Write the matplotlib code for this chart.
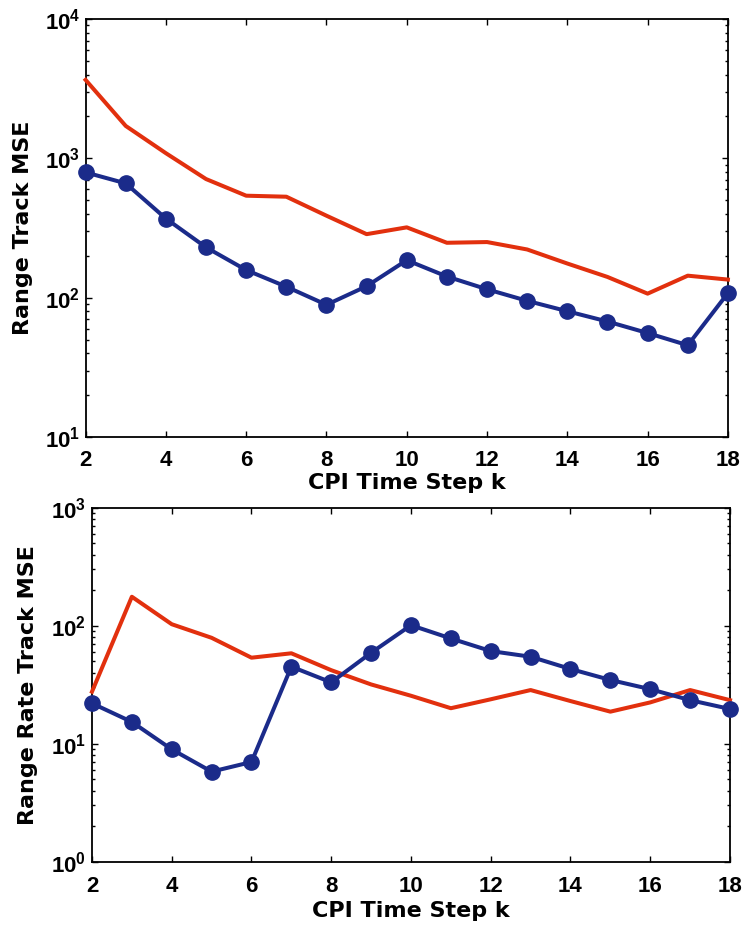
import matplotlib
matplotlib.use("Agg")
import matplotlib.pyplot as plt
from matplotlib.ticker import LogLocator, FixedLocator

# CPI time steps
k = [2, 3, 4, 5, 6, 7, 8, 9, 10, 11, 12, 13, 14, 15, 16, 17, 18]

# Range track MSE
range_ref = [3660, 1710, 1090, 711, 540, 531, 388, 286, 320, 248, 251, 222, 176, 141, 107, 144, 135]
range_est = [794, 662, 370, 230, 158, 120, 89, 121, 186, 142, 115, 95, 80, 67.5, 55.8, 45.6, 108]

# Range rate track MSE
rate_ref = [27.6, 176, 103, 79, 53.6, 58.4, 42, 31.8, 25.5, 20, 23.8, 28.5, 23, 18.7, 22.4, 28.5, 23.4]
rate_est = [22, 15.3, 8.96, 5.8, 7.0, 45, 33.1, 59, 101, 78, 61, 54.6, 43, 34.7, 29, 23.4, 19.7]

xticks = [2, 4, 6, 8, 10, 12, 14, 16, 18]

plt.rcParams["font.family"] = ["Liberation Sans", "DejaVu Sans"]
plt.rcParams["font.weight"] = "bold"
plt.rcParams["mathtext.fontset"] = "custom"
plt.rcParams["mathtext.rm"] = "Liberation Sans:bold"
plt.rcParams["mathtext.bf"] = "Liberation Sans:bold"
plt.rcParams["mathtext.default"] = "bf"

RED = "#e2300e"
BLUE = "#1b2b8a"
LABEL_FONT = ["DejaVu Sans"]

fig = plt.figure(figsize=(7.43, 9.26), dpi=100)
ax1 = fig.add_axes([0.1152, 0.528, 0.8645, 0.4514])
ax2 = fig.add_axes([0.1238, 0.0694, 0.8587, 0.3823])


def style(ax, ylim, ylabel, label_x, xpad, xlabelpad):
    ax.set_yscale("log")
    ax.set_xlim(2, 18)
    ax.set_ylim(*ylim)
    ax.xaxis.set_major_locator(FixedLocator(xticks))
    ax.yaxis.set_major_locator(LogLocator(base=10, numticks=10))
    ax.yaxis.set_minor_locator(LogLocator(base=10, subs=range(2, 10), numticks=20))
    ax.tick_params(which="both", direction="in", top=True, right=True,
                   labelsize=16, width=1, color="black")
    ax.tick_params(which="major", length=4)
    ax.tick_params(which="minor", length=2.5)
    ax.tick_params(axis="x", pad=xpad)
    ax.tick_params(axis="y", pad=4)
    for lbl in ax.get_xticklabels() + ax.get_yticklabels():
        lbl.set_fontweight("bold")
    for s in ax.spines.values():
        s.set_linewidth(1.3)
    ax.set_xlabel("CPI Time Step k", fontsize=16, fontweight="bold",
                  family=LABEL_FONT, labelpad=xlabelpad)
    ax.set_ylabel(ylabel, fontsize=16, fontweight="bold", family=LABEL_FONT)
    ax.yaxis.set_label_coords(label_x, 0.5)


ax1.plot(k, range_ref, color=RED, lw=2.9, clip_on=False, zorder=3)
ax1.plot(k, range_est, color=BLUE, lw=2.9, marker="o", ms=11, mew=1,
         clip_on=False, zorder=4)
style(ax1, (10, 1e4), "Range Track MSE", -0.082, 9, 2)

ax2.plot(k, rate_ref, color=RED, lw=2.9, clip_on=False, zorder=3)
ax2.plot(k, rate_est, color=BLUE, lw=2.9, marker="o", ms=11, mew=1,
         clip_on=False, zorder=4)
style(ax2, (1, 1e3), "Range Rate Track MSE", -0.0846, 10, 3)

fig.savefig("out.png", dpi=100)
